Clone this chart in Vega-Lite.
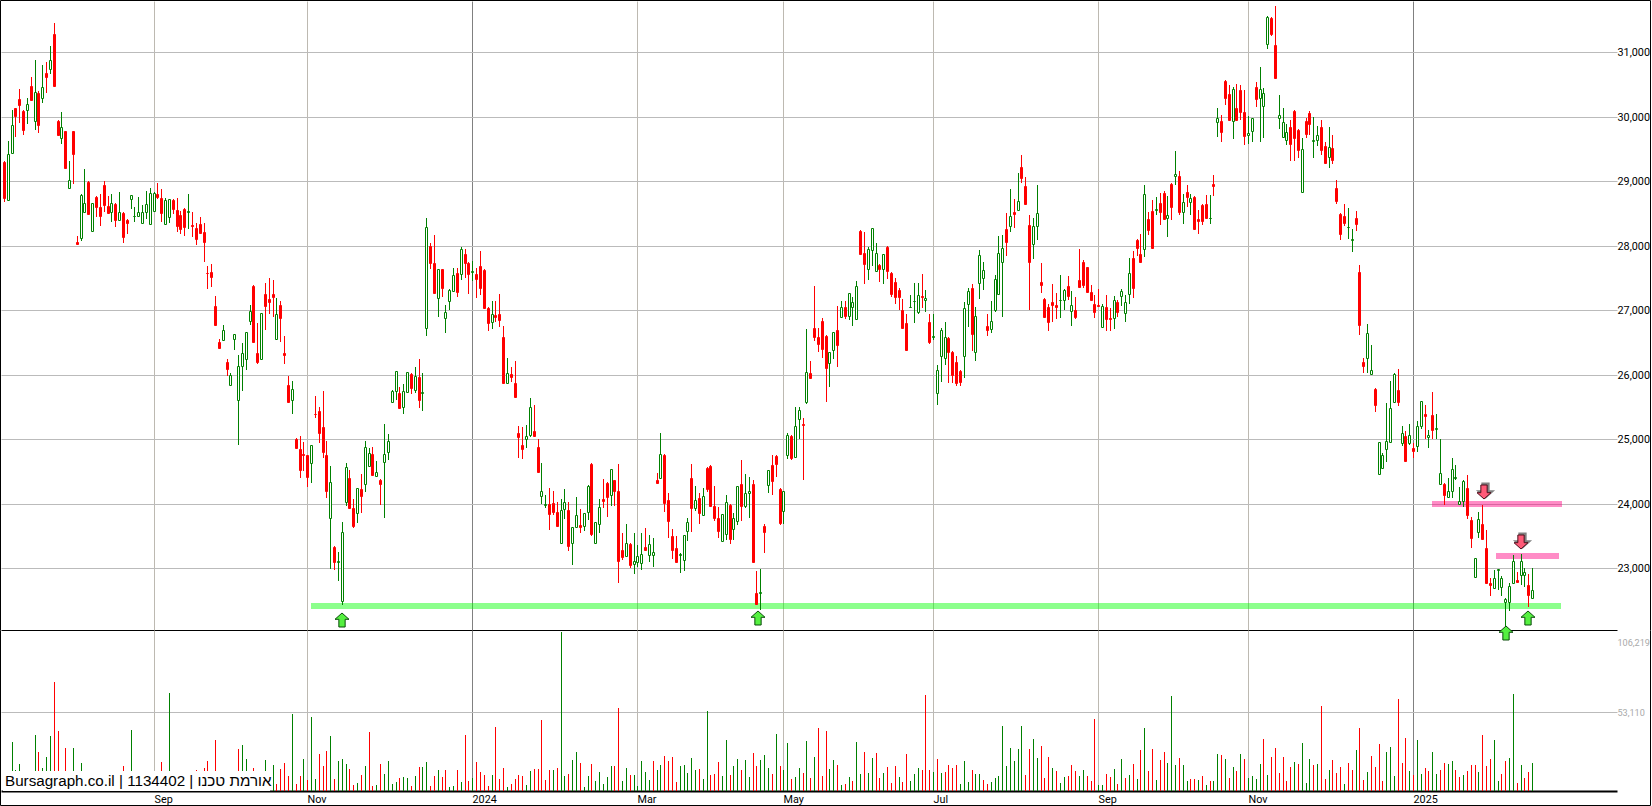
{
"$schema":"https://vega.github.io/schema/vega-lite/v6.json",
"description":"Bursagraph daily candlesticks with volume for 1134402",
"padding":0,
"background":"white",
"spacing":0,
"bounds":"flush",
"resolve":{"scale":{"color":"independent","strokeWidth":"independent"}},
"config":{"view":{"stroke":null},"concat":{"spacing":0},"scale":{"continuousPadding":0},"axis":{"labelFont":"Roboto","labelFontSize":10.8}},
"datasets":{
"bands":[{"a":79.9,"b":405.4,"price":22416,"kind":"support"},{"a":371.8,"b":405.8,"price":24000,"kind":"resistance"},{"a":388.7,"b":404.9,"price":23190,"kind":"resistance2"}],
"arrows":[{"t":88,"price":22199,"kind":"up"},{"t":196.5,"price":22230,"kind":"up"},{"t":391.2,"price":21997,"kind":"up"},{"t":397,"price":22230,"kind":"up"},{"t":385.5,"price":24187,"kind":"down"},{"t":395.1,"price":23412,"kind":"down"}],
"frameTop":[{"a":-0.997,"b":428.7,"lo":31808,"hi":31808},{"a":-0.997,"b":-0.997,"lo":22044,"hi":31808},{"a":428.7,"b":428.7,"lo":22044,"hi":31808}],
"frameBottom":[{"a":-0.997,"b":-0.997,"lo":-9366,"hi":107700},{"a":428.7,"b":428.7,"lo":-9366,"hi":107700},{"a":-0.997,"b":428.7,"lo":-9366,"hi":-9366}],
"note":[{"a":-0.1,"b":69.2,"lo":0,"hi":13180,"mid":6490,"label":"Bursagraph.co.il | 1134402 | אורמת טכנו"}],
"bars":[
{"t":0,"o":29297,"h":29307,"l":28670,"c":28743,"v":5000,"d":"down"},
{"t":1,"o":28707,"h":29620,"l":28700,"c":29415,"v":5000,"d":"up"},
{"t":2,"o":29430,"h":30100,"l":29430,"c":29877,"v":32558,"d":"up"},
{"t":3,"o":30130,"h":30140,"l":29687,"c":30010,"v":13830,"d":"up"},
{"t":4,"o":30272,"h":30433,"l":29902,"c":30178,"v":17840,"d":"up"},
{"t":5,"o":30085,"h":30100,"l":29718,"c":29795,"v":5000,"d":"down"},
{"t":6,"o":30100,"h":30288,"l":29887,"c":30204,"v":5000,"d":"up"},
{"t":7,"o":30475,"h":30615,"l":30257,"c":30257,"v":5000,"d":"down"},
{"t":8,"o":29938,"h":30880,"l":29800,"c":30376,"v":37240,"d":"up"},
{"t":9,"o":30366,"h":30397,"l":29750,"c":29872,"v":25870,"d":"down"},
{"t":10,"o":30282,"h":30802,"l":30215,"c":30454,"v":15160,"d":"up"},
{"t":11,"o":30678,"h":30850,"l":30371,"c":30615,"v":22520,"d":"up"},
{"t":12,"o":30735,"h":31100,"l":30657,"c":30875,"v":36570,"d":"up"},
{"t":13,"o":31286,"h":31445,"l":30465,"c":30475,"v":72700,"d":"down"},
{"t":14,"o":29928,"h":29944,"l":29703,"c":29713,"v":39920,"d":"down"},
{"t":15,"o":29677,"h":30068,"l":29580,"c":29846,"v":5000,"d":"up"},
{"t":16,"o":29774,"h":29785,"l":29210,"c":29210,"v":28540,"d":"down"},
{"t":17,"o":28902,"h":29313,"l":28902,"c":29015,"v":5000,"d":"up"},
{"t":18,"o":29774,"h":29785,"l":28964,"c":29425,"v":28540,"d":"up"},
{"t":19,"o":28050,"h":28143,"l":28005,"c":28020,"v":13160,"d":"down"},
{"t":20,"o":28112,"h":28805,"l":28071,"c":28790,"v":18510,"d":"up"},
{"t":21,"o":28523,"h":29190,"l":28507,"c":28660,"v":5000,"d":"up"},
{"t":22,"o":28990,"h":29000,"l":28482,"c":28497,"v":5000,"d":"down"},
{"t":23,"o":28230,"h":28660,"l":28225,"c":28660,"v":5000,"d":"up"},
{"t":24,"o":28759,"h":28774,"l":28451,"c":28595,"v":5000,"d":"down"},
{"t":25,"o":28600,"h":28805,"l":28312,"c":28456,"v":5000,"d":"down"},
{"t":26,"o":28944,"h":29000,"l":28528,"c":28625,"v":5000,"d":"down"},
{"t":27,"o":28620,"h":28774,"l":28497,"c":28507,"v":5000,"d":"down"},
{"t":28,"o":28528,"h":28805,"l":28360,"c":28660,"v":5000,"d":"up"},
{"t":29,"o":28651,"h":28666,"l":28297,"c":28395,"v":5000,"d":"down"},
{"t":30,"o":28395,"h":28836,"l":28395,"c":28523,"v":5000,"d":"up"},
{"t":31,"o":28513,"h":28528,"l":28036,"c":28133,"v":16500,"d":"down"},
{"t":32,"o":28405,"h":28420,"l":28174,"c":28348,"v":5000,"d":"down"},
{"t":33,"o":28723,"h":28785,"l":28574,"c":28785,"v":40590,"d":"up"},
{"t":34,"o":28456,"h":28605,"l":28374,"c":28466,"v":5000,"d":"up"},
{"t":35,"o":28456,"h":28760,"l":28451,"c":28523,"v":5000,"d":"up"},
{"t":36,"o":28354,"h":28636,"l":28348,"c":28523,"v":5000,"d":"up"},
{"t":37,"o":28523,"h":28851,"l":28420,"c":28651,"v":5000,"d":"up"},
{"t":38,"o":28338,"h":28897,"l":28328,"c":28815,"v":5000,"d":"up"},
{"t":39,"o":28538,"h":28825,"l":28528,"c":28815,"v":5000,"d":"up"},
{"t":40,"o":28800,"h":28974,"l":28728,"c":28759,"v":5000,"d":"down"},
{"t":41,"o":28743,"h":28882,"l":28374,"c":28502,"v":19180,"d":"down"},
{"t":42,"o":28338,"h":28738,"l":28328,"c":28707,"v":5000,"d":"up"},
{"t":43,"o":28446,"h":28723,"l":28354,"c":28723,"v":65340,"d":"up"},
{"t":44,"o":28707,"h":28723,"l":28497,"c":28564,"v":5000,"d":"down"},
{"t":45,"o":28559,"h":28743,"l":28205,"c":28312,"v":5000,"d":"down"},
{"t":46,"o":28482,"h":28543,"l":28174,"c":28256,"v":5000,"d":"down"},
{"t":47,"o":28569,"h":28584,"l":28143,"c":28297,"v":5000,"d":"down"},
{"t":48,"o":28528,"h":28805,"l":28266,"c":28538,"v":5000,"d":"up"},
{"t":49,"o":28328,"h":28528,"l":28128,"c":28302,"v":5000,"d":"down"},
{"t":50,"o":28277,"h":28354,"l":28005,"c":28097,"v":13830,"d":"down"},
{"t":51,"o":28343,"h":28451,"l":28190,"c":28190,"v":5000,"d":"down"},
{"t":52,"o":28205,"h":28359,"l":27740,"c":28051,"v":15160,"d":"down"},
{"t":53,"o":27584,"h":27678,"l":27334,"c":27574,"v":19850,"d":"down"},
{"t":54,"o":27600,"h":27724,"l":27365,"c":27522,"v":5000,"d":"down"},
{"t":55,"o":27062,"h":27215,"l":26769,"c":26769,"v":33900,"d":"down"},
{"t":56,"o":26508,"h":26549,"l":26405,"c":26420,"v":5000,"d":"down"},
{"t":57,"o":26533,"h":26769,"l":26533,"c":26687,"v":5000,"d":"up"},
{"t":58,"o":26200,"h":26241,"l":25974,"c":26097,"v":5000,"d":"down"},
{"t":59,"o":25840,"h":26025,"l":25840,"c":25995,"v":5000,"d":"up"},
{"t":60,"o":26549,"h":26626,"l":26384,"c":26626,"v":5000,"d":"up"},
{"t":61,"o":25606,"h":26307,"l":24913,"c":26133,"v":27880,"d":"down"},
{"t":62,"o":26138,"h":26487,"l":25751,"c":26333,"v":30550,"d":"up"},
{"t":63,"o":26246,"h":26656,"l":26077,"c":26656,"v":21190,"d":"up"},
{"t":64,"o":26841,"h":27077,"l":26769,"c":26995,"v":5000,"d":"up"},
{"t":65,"o":27370,"h":27385,"l":26497,"c":26502,"v":15160,"d":"down"},
{"t":66,"o":26333,"h":26795,"l":26169,"c":26200,"v":5000,"d":"down"},
{"t":67,"o":26241,"h":26964,"l":26241,"c":26964,"v":5000,"d":"up"},
{"t":68,"o":27246,"h":27415,"l":26692,"c":27062,"v":20520,"d":"up"},
{"t":69,"o":27169,"h":27492,"l":26949,"c":27123,"v":13160,"d":"up"},
{"t":70,"o":27246,"h":27462,"l":26892,"c":27200,"v":17170,"d":"up"},
{"t":71,"o":26549,"h":27185,"l":26533,"c":26949,"v":4460,"d":"down"},
{"t":72,"o":27077,"h":27138,"l":26508,"c":26877,"v":14500,"d":"down"},
{"t":73,"o":26338,"h":26600,"l":26169,"c":26307,"v":18510,"d":"down"},
{"t":74,"o":25845,"h":25985,"l":25565,"c":25580,"v":9810,"d":"down"},
{"t":75,"o":25611,"h":25907,"l":25394,"c":25782,"v":51290,"d":"up"},
{"t":76,"o":25008,"h":25019,"l":24858,"c":24858,"v":4460,"d":"down"},
{"t":77,"o":24853,"h":25055,"l":24403,"c":24517,"v":9810,"d":"down"},
{"t":78,"o":24775,"h":24962,"l":24501,"c":24760,"v":21190,"d":"up"},
{"t":79,"o":24760,"h":24760,"l":24268,"c":24418,"v":7140,"d":"down"},
{"t":80,"o":24631,"h":24910,"l":24325,"c":24910,"v":49280,"d":"up"},
{"t":81,"o":25397,"h":25676,"l":25334,"c":25386,"v":7810,"d":"up"},
{"t":82,"o":25443,"h":25505,"l":24946,"c":25102,"v":24530,"d":"down"},
{"t":83,"o":25195,"h":25754,"l":24713,"c":24806,"v":16500,"d":"down"},
{"t":84,"o":24760,"h":24977,"l":24092,"c":24201,"v":26540,"d":"down"},
{"t":85,"o":23776,"h":24589,"l":22990,"c":24341,"v":36570,"d":"up"},
{"t":86,"o":23331,"h":23347,"l":22974,"c":23104,"v":7810,"d":"down"},
{"t":87,"o":23104,"h":23254,"l":22803,"c":23114,"v":19850,"d":"up"},
{"t":88,"o":22488,"h":23720,"l":22431,"c":23564,"v":21190,"d":"up"},
{"t":89,"o":24030,"h":24636,"l":23968,"c":24574,"v":17840,"d":"up"},
{"t":90,"o":24403,"h":24527,"l":23921,"c":23937,"v":14500,"d":"down"},
{"t":91,"o":23937,"h":24077,"l":23626,"c":23657,"v":3790,"d":"down"},
{"t":92,"o":23854,"h":24247,"l":23704,"c":24247,"v":5130,"d":"up"},
{"t":93,"o":24232,"h":24465,"l":23859,"c":24123,"v":10480,"d":"down"},
{"t":94,"o":24304,"h":24977,"l":24185,"c":24884,"v":16500,"d":"up"},
{"t":95,"o":24579,"h":24869,"l":24574,"c":24791,"v":39250,"d":"down"},
{"t":96,"o":24775,"h":24884,"l":24449,"c":24449,"v":3120,"d":"down"},
{"t":97,"o":24424,"h":24667,"l":24418,"c":24496,"v":3790,"d":"up"},
{"t":98,"o":24372,"h":24387,"l":23983,"c":24310,"v":17840,"d":"down"},
{"t":99,"o":24646,"h":25241,"l":23782,"c":24775,"v":11150,"d":"up"},
{"t":100,"o":24806,"h":25086,"l":24682,"c":24977,"v":19850,"d":"up"},
{"t":101,"o":25583,"h":25769,"l":25583,"c":25754,"v":4460,"d":"up"},
{"t":102,"o":25754,"h":26064,"l":25614,"c":26064,"v":5800,"d":"up"},
{"t":103,"o":25723,"h":25816,"l":25490,"c":25490,"v":8470,"d":"down"},
{"t":104,"o":25500,"h":25862,"l":25397,"c":25754,"v":9140,"d":"up"},
{"t":105,"o":25738,"h":26049,"l":25738,"c":26049,"v":8470,"d":"up"},
{"t":106,"o":26018,"h":26033,"l":25707,"c":25800,"v":3120,"d":"down"},
{"t":107,"o":25769,"h":26126,"l":25723,"c":25987,"v":9810,"d":"up"},
{"t":108,"o":25971,"h":26251,"l":25490,"c":25614,"v":15830,"d":"down"},
{"t":109,"o":25723,"h":26033,"l":25443,"c":25733,"v":15830,"d":"up"},
{"t":110,"o":26727,"h":28435,"l":26608,"c":28285,"v":19180,"d":"up"},
{"t":111,"o":27990,"h":28036,"l":27633,"c":27726,"v":3120,"d":"down"},
{"t":112,"o":27726,"h":28160,"l":27260,"c":27260,"v":9810,"d":"down"},
{"t":113,"o":27187,"h":27643,"l":26903,"c":27643,"v":13830,"d":"up"},
{"t":114,"o":27633,"h":27643,"l":27198,"c":27338,"v":9140,"d":"down"},
{"t":115,"o":26877,"h":27074,"l":26654,"c":26980,"v":13830,"d":"down"},
{"t":116,"o":27146,"h":27322,"l":27011,"c":27306,"v":2450,"d":"up"},
{"t":117,"o":27291,"h":27648,"l":27275,"c":27539,"v":3120,"d":"up"},
{"t":118,"o":27570,"h":27648,"l":27198,"c":27275,"v":13830,"d":"down"},
{"t":119,"o":27555,"h":27974,"l":27467,"c":27943,"v":5800,"d":"up"},
{"t":120,"o":27866,"h":27943,"l":27493,"c":27726,"v":37240,"d":"down"},
{"t":121,"o":27726,"h":27741,"l":27244,"c":27555,"v":6470,"d":"down"},
{"t":122,"o":27596,"h":27762,"l":27446,"c":27607,"v":8470,"d":"up"},
{"t":123,"o":27555,"h":27648,"l":27182,"c":27477,"v":19180,"d":"down"},
{"t":124,"o":27679,"h":27912,"l":27229,"c":27338,"v":12490,"d":"down"},
{"t":125,"o":27617,"h":27633,"l":27027,"c":27027,"v":10480,"d":"down"},
{"t":126,"o":27027,"h":27043,"l":26685,"c":26810,"v":3120,"d":"down"},
{"t":127,"o":26815,"h":27136,"l":26716,"c":26944,"v":10480,"d":"up"},
{"t":128,"o":26929,"h":27136,"l":26825,"c":26903,"v":42590,"d":"down"},
{"t":129,"o":26934,"h":27244,"l":26748,"c":26856,"v":7810,"d":"down"},
{"t":130,"o":26592,"h":26763,"l":25862,"c":25878,"v":15160,"d":"down"},
{"t":131,"o":25878,"h":26266,"l":25878,"c":26028,"v":2450,"d":"up"},
{"t":132,"o":26018,"h":26126,"l":25893,"c":25971,"v":4460,"d":"down"},
{"t":133,"o":25878,"h":26220,"l":25645,"c":25661,"v":7810,"d":"down"},
{"t":134,"o":25102,"h":25210,"l":24713,"c":25039,"v":10480,"d":"down"},
{"t":135,"o":24915,"h":25195,"l":24698,"c":24853,"v":9810,"d":"down"},
{"t":136,"o":25008,"h":25226,"l":24869,"c":25050,"v":3790,"d":"up"},
{"t":137,"o":25070,"h":25645,"l":25039,"c":25505,"v":13160,"d":"up"},
{"t":138,"o":25133,"h":25536,"l":25055,"c":25055,"v":14500,"d":"down"},
{"t":139,"o":24884,"h":25008,"l":24496,"c":24496,"v":14500,"d":"down"},
{"t":140,"o":24128,"h":24636,"l":24000,"c":24201,"v":47280,"d":"down"},
{"t":141,"o":23989,"h":24139,"l":23937,"c":24000,"v":7140,"d":"down"},
{"t":142,"o":24000,"h":24247,"l":23595,"c":23844,"v":13830,"d":"down"},
{"t":143,"o":24015,"h":24201,"l":23828,"c":23875,"v":13830,"d":"up"},
{"t":144,"o":23875,"h":24030,"l":23657,"c":23657,"v":15160,"d":"down"},
{"t":145,"o":23393,"h":24077,"l":23393,"c":23906,"v":106219,"d":"up"},
{"t":146,"o":23916,"h":24232,"l":23766,"c":24030,"v":9810,"d":"up"},
{"t":147,"o":23906,"h":24030,"l":23269,"c":23347,"v":11150,"d":"down"},
{"t":148,"o":23393,"h":23642,"l":23052,"c":23642,"v":20520,"d":"up"},
{"t":149,"o":23637,"h":24108,"l":23626,"c":23828,"v":25870,"d":"up"},
{"t":150,"o":23673,"h":23921,"l":23549,"c":23642,"v":18510,"d":"down"},
{"t":151,"o":23657,"h":23859,"l":23580,"c":23859,"v":2450,"d":"up"},
{"t":152,"o":23875,"h":24294,"l":23751,"c":24279,"v":9810,"d":"up"},
{"t":153,"o":24620,"h":24636,"l":23502,"c":23533,"v":17840,"d":"down"},
{"t":154,"o":23398,"h":23720,"l":23393,"c":23720,"v":6470,"d":"up"},
{"t":155,"o":23689,"h":24077,"l":23549,"c":23952,"v":12490,"d":"up"},
{"t":156,"o":24077,"h":24387,"l":23937,"c":24046,"v":4460,"d":"up"},
{"t":157,"o":24325,"h":24341,"l":23797,"c":24108,"v":9140,"d":"up"},
{"t":158,"o":24139,"h":24543,"l":23968,"c":24543,"v":16500,"d":"up"},
{"t":159,"o":24372,"h":24372,"l":23968,"c":24201,"v":16500,"d":"down"},
{"t":160,"o":24201,"h":24620,"l":22772,"c":23114,"v":55300,"d":"down"},
{"t":161,"o":23285,"h":23549,"l":23130,"c":23176,"v":6470,"d":"up"},
{"t":162,"o":23186,"h":23689,"l":23171,"c":23393,"v":15160,"d":"up"},
{"t":163,"o":23378,"h":23393,"l":23005,"c":23052,"v":10480,"d":"down"},
{"t":164,"o":23067,"h":23549,"l":22912,"c":23109,"v":10480,"d":"up"},
{"t":165,"o":23098,"h":23362,"l":23021,"c":23192,"v":3120,"d":"up"},
{"t":166,"o":23078,"h":23549,"l":22974,"c":23223,"v":19850,"d":"up"},
{"t":167,"o":23331,"h":23626,"l":23285,"c":23285,"v":12490,"d":"up"},
{"t":168,"o":23207,"h":23518,"l":23098,"c":23378,"v":7140,"d":"up"},
{"t":169,"o":23207,"h":23471,"l":23021,"c":23254,"v":19850,"d":"down"},
{"t":170,"o":24372,"h":24480,"l":24325,"c":24325,"v":13830,"d":"up"},
{"t":171,"o":24398,"h":25096,"l":24398,"c":24770,"v":17170,"d":"up"},
{"t":172,"o":24760,"h":24775,"l":23875,"c":24015,"v":23190,"d":"down"},
{"t":173,"o":24061,"h":24170,"l":23471,"c":23735,"v":19850,"d":"down"},
{"t":174,"o":23502,"h":23611,"l":23145,"c":23285,"v":22520,"d":"down"},
{"t":175,"o":23316,"h":23502,"l":23098,"c":23098,"v":5800,"d":"down"},
{"t":176,"o":23212,"h":23233,"l":22928,"c":23223,"v":16500,"d":"up"},
{"t":177,"o":23130,"h":23518,"l":22959,"c":23518,"v":17170,"d":"up"},
{"t":178,"o":23580,"h":23782,"l":23425,"c":23720,"v":11820,"d":"up"},
{"t":179,"o":24403,"h":24620,"l":23564,"c":23937,"v":21850,"d":"up"},
{"t":180,"o":23937,"h":24279,"l":23890,"c":24061,"v":13830,"d":"up"},
{"t":181,"o":24092,"h":24165,"l":23689,"c":23854,"v":14500,"d":"down"},
{"t":182,"o":23823,"h":24247,"l":23823,"c":24118,"v":7810,"d":"up"},
{"t":183,"o":24558,"h":24574,"l":24185,"c":24232,"v":53300,"d":"up"},
{"t":184,"o":24589,"h":24605,"l":23968,"c":23968,"v":10480,"d":"down"},
{"t":185,"o":23968,"h":24279,"l":23735,"c":23782,"v":11150,"d":"down"},
{"t":186,"o":23782,"h":23952,"l":23471,"c":23580,"v":19180,"d":"down"},
{"t":187,"o":23419,"h":23844,"l":23409,"c":23844,"v":9810,"d":"up"},
{"t":188,"o":23533,"h":24139,"l":23440,"c":24025,"v":33900,"d":"up"},
{"t":189,"o":23983,"h":24000,"l":23378,"c":23456,"v":10480,"d":"down"},
{"t":190,"o":23611,"h":23859,"l":23440,"c":23782,"v":16500,"d":"up"},
{"t":191,"o":23735,"h":24279,"l":23673,"c":24279,"v":21190,"d":"up"},
{"t":192,"o":24310,"h":24682,"l":23735,"c":23968,"v":13830,"d":"down"},
{"t":193,"o":23973,"h":24465,"l":23937,"c":24160,"v":20520,"d":"up"},
{"t":194,"o":24165,"h":24418,"l":23782,"c":24196,"v":9140,"d":"up"},
{"t":195,"o":24310,"h":24372,"l":23088,"c":23104,"v":25200,"d":"down"},
{"t":196,"o":22617,"h":22959,"l":22431,"c":22446,"v":16500,"d":"down"},
{"t":197,"o":22612,"h":22990,"l":22353,"c":22627,"v":20520,"d":"up"},
{"t":198,"o":23657,"h":23689,"l":23238,"c":23564,"v":23860,"d":"up"},
{"t":199,"o":24294,"h":24527,"l":24170,"c":24527,"v":15160,"d":"up"},
{"t":200,"o":24605,"h":24760,"l":24139,"c":24356,"v":11150,"d":"down"},
{"t":201,"o":24744,"h":24760,"l":24418,"c":24620,"v":37910,"d":"up"},
{"t":202,"o":24232,"h":24247,"l":23673,"c":23704,"v":16500,"d":"down"},
{"t":203,"o":23890,"h":24201,"l":23689,"c":24201,"v":13830,"d":"up"},
{"t":204,"o":24760,"h":25102,"l":24698,"c":25070,"v":31890,"d":"up"},
{"t":205,"o":25055,"h":25070,"l":24682,"c":24713,"v":7810,"d":"down"},
{"t":206,"o":24724,"h":25505,"l":24713,"c":25210,"v":9140,"d":"up"},
{"t":207,"o":25319,"h":25505,"l":25008,"c":25459,"v":15160,"d":"up"},
{"t":208,"o":25241,"h":25334,"l":24372,"c":25221,"v":11820,"d":"down"},
{"t":209,"o":25583,"h":26716,"l":25552,"c":26044,"v":33230,"d":"up"},
{"t":210,"o":26033,"h":26220,"l":25940,"c":25956,"v":8470,"d":"down"},
{"t":211,"o":26732,"h":27369,"l":26530,"c":26592,"v":22520,"d":"up"},
{"t":212,"o":26592,"h":26732,"l":26359,"c":26483,"v":41920,"d":"down"},
{"t":213,"o":26841,"h":26887,"l":26266,"c":26406,"v":9810,"d":"down"},
{"t":214,"o":26608,"h":26623,"l":25583,"c":26111,"v":39920,"d":"down"},
{"t":215,"o":26183,"h":26359,"l":25816,"c":26354,"v":14500,"d":"up"},
{"t":216,"o":26390,"h":26670,"l":26251,"c":26665,"v":20520,"d":"up"},
{"t":217,"o":26701,"h":27058,"l":26126,"c":26468,"v":17170,"d":"down"},
{"t":218,"o":26898,"h":27136,"l":26887,"c":27053,"v":3790,"d":"up"},
{"t":219,"o":27043,"h":27136,"l":26872,"c":26918,"v":4460,"d":"down"},
{"t":220,"o":26918,"h":27260,"l":26856,"c":27260,"v":9140,"d":"up"},
{"t":221,"o":27053,"h":27198,"l":26763,"c":27130,"v":6470,"d":"down"},
{"t":222,"o":26872,"h":27446,"l":26856,"c":27369,"v":32560,"d":"up"},
{"t":223,"o":28223,"h":28238,"l":27866,"c":27866,"v":11150,"d":"up"},
{"t":224,"o":27881,"h":28207,"l":27400,"c":27710,"v":25870,"d":"down"},
{"t":225,"o":27633,"h":27974,"l":27462,"c":27943,"v":11820,"d":"up"},
{"t":226,"o":27928,"h":28269,"l":27679,"c":28269,"v":21850,"d":"up"},
{"t":227,"o":27602,"h":28036,"l":27602,"c":27881,"v":25200,"d":"down"},
{"t":228,"o":27695,"h":27710,"l":27431,"c":27633,"v":8470,"d":"down"},
{"t":229,"o":27633,"h":27866,"l":27400,"c":27866,"v":11820,"d":"up"},
{"t":230,"o":27974,"h":27990,"l":27477,"c":27602,"v":15830,"d":"down"},
{"t":231,"o":27570,"h":27586,"l":27198,"c":27244,"v":5130,"d":"down"},
{"t":232,"o":27431,"h":27493,"l":27089,"c":27198,"v":16500,"d":"down"},
{"t":233,"o":27306,"h":27338,"l":26996,"c":27198,"v":9140,"d":"up"},
{"t":234,"o":27011,"h":27167,"l":26716,"c":26732,"v":5800,"d":"down"},
{"t":235,"o":26810,"h":26949,"l":26390,"c":26390,"v":24530,"d":"down"},
{"t":236,"o":27043,"h":27229,"l":27043,"c":27053,"v":6470,"d":"up"},
{"t":237,"o":27136,"h":27415,"l":26810,"c":27146,"v":11150,"d":"up"},
{"t":238,"o":26980,"h":27415,"l":26934,"c":27239,"v":15160,"d":"up"},
{"t":239,"o":27224,"h":27555,"l":27027,"c":27208,"v":13830,"d":"down"},
{"t":240,"o":27162,"h":27306,"l":26965,"c":27193,"v":64000,"d":"down"},
{"t":241,"o":26825,"h":26949,"l":26483,"c":26515,"v":13830,"d":"down"},
{"t":242,"o":26592,"h":26949,"l":26546,"c":26603,"v":12490,"d":"up"},
{"t":243,"o":25717,"h":26157,"l":25536,"c":26075,"v":21190,"d":"down"},
{"t":244,"o":26297,"h":26732,"l":25893,"c":26701,"v":11820,"d":"up"},
{"t":245,"o":26261,"h":26825,"l":26157,"c":26592,"v":12490,"d":"down"},
{"t":246,"o":26577,"h":26592,"l":25878,"c":26359,"v":17170,"d":"down"},
{"t":247,"o":26359,"h":26375,"l":25878,"c":26002,"v":15160,"d":"down"},
{"t":248,"o":26199,"h":26297,"l":25831,"c":25878,"v":17170,"d":"down"},
{"t":249,"o":26064,"h":26080,"l":25831,"c":25893,"v":4460,"d":"up"},
{"t":250,"o":26297,"h":27120,"l":25956,"c":27027,"v":19850,"d":"up"},
{"t":251,"o":27089,"h":27338,"l":26748,"c":27291,"v":5800,"d":"up"},
{"t":252,"o":27338,"h":27400,"l":26375,"c":26639,"v":13830,"d":"down"},
{"t":253,"o":26359,"h":27043,"l":26220,"c":26918,"v":11150,"d":"up"},
{"t":254,"o":27415,"h":27928,"l":27167,"c":27850,"v":11150,"d":"up"},
{"t":255,"o":27493,"h":27741,"l":27306,"c":27617,"v":7140,"d":"down"},
{"t":256,"o":26763,"h":26949,"l":26608,"c":26701,"v":4460,"d":"down"},
{"t":257,"o":26716,"h":27136,"l":26654,"c":26841,"v":5800,"d":"up"},
{"t":258,"o":26996,"h":27539,"l":26980,"c":27477,"v":8470,"d":"up"},
{"t":259,"o":27255,"h":28158,"l":27244,"c":27893,"v":9810,"d":"up"},
{"t":260,"o":27752,"h":28160,"l":26903,"c":27958,"v":43260,"d":"up"},
{"t":261,"o":28266,"h":28510,"l":27837,"c":28051,"v":16500,"d":"up"},
{"t":262,"o":28301,"h":28878,"l":28210,"c":28459,"v":28540,"d":"up"},
{"t":263,"o":28526,"h":28725,"l":28281,"c":28495,"v":19850,"d":"up"},
{"t":264,"o":28561,"h":29122,"l":28556,"c":28694,"v":27880,"d":"up"},
{"t":265,"o":29214,"h":29413,"l":28969,"c":29046,"v":43260,"d":"up"},
{"t":266,"o":28924,"h":29061,"l":28648,"c":28648,"v":10480,"d":"down"},
{"t":267,"o":28327,"h":28480,"l":27011,"c":27741,"v":27880,"d":"down"},
{"t":268,"o":28021,"h":28434,"l":27788,"c":28306,"v":34570,"d":"up"},
{"t":269,"o":28306,"h":28939,"l":28082,"c":28505,"v":21850,"d":"up"},
{"t":270,"o":27431,"h":27726,"l":27260,"c":27384,"v":29880,"d":"down"},
{"t":271,"o":27167,"h":27182,"l":26903,"c":26903,"v":8470,"d":"down"},
{"t":272,"o":27043,"h":27089,"l":26685,"c":26825,"v":22520,"d":"down"},
{"t":273,"o":27120,"h":27400,"l":26825,"c":27074,"v":15160,"d":"up"},
{"t":274,"o":27074,"h":27260,"l":26872,"c":27043,"v":13160,"d":"down"},
{"t":275,"o":27156,"h":27539,"l":26887,"c":27162,"v":5130,"d":"up"},
{"t":276,"o":27162,"h":27322,"l":27011,"c":27306,"v":9140,"d":"up"},
{"t":277,"o":27369,"h":27524,"l":27151,"c":27213,"v":9810,"d":"down"},
{"t":278,"o":26991,"h":27291,"l":26763,"c":27074,"v":17170,"d":"down"},
{"t":279,"o":27011,"h":27198,"l":26872,"c":26903,"v":13160,"d":"down"},
{"t":280,"o":27462,"h":27943,"l":27353,"c":27353,"v":9810,"d":"up"},
{"t":281,"o":27741,"h":27772,"l":27338,"c":27384,"v":13830,"d":"up"},
{"t":282,"o":27664,"h":27664,"l":27275,"c":27275,"v":9810,"d":"down"},
{"t":283,"o":27275,"h":27384,"l":27151,"c":27151,"v":6470,"d":"down"},
{"t":284,"o":27089,"h":27229,"l":26887,"c":26980,"v":47950,"d":"down"},
{"t":285,"o":27074,"h":27322,"l":27058,"c":27058,"v":3790,"d":"up"},
{"t":286,"o":26743,"h":27089,"l":26743,"c":27068,"v":3790,"d":"up"},
{"t":287,"o":27052,"h":27243,"l":26686,"c":26872,"v":11150,"d":"down"},
{"t":288,"o":26887,"h":27042,"l":26686,"c":26872,"v":9140,"d":"down"},
{"t":289,"o":26882,"h":27228,"l":26717,"c":27161,"v":14500,"d":"up"},
{"t":290,"o":27135,"h":27166,"l":26903,"c":26970,"v":4460,"d":"down"},
{"t":291,"o":27218,"h":27336,"l":27058,"c":27305,"v":21190,"d":"up"},
{"t":292,"o":26960,"h":27243,"l":26825,"c":27130,"v":8470,"d":"down"},
{"t":293,"o":27254,"h":27816,"l":27104,"c":27579,"v":10480,"d":"up"},
{"t":294,"o":27816,"h":27925,"l":27197,"c":27352,"v":17840,"d":"down"},
{"t":295,"o":28095,"h":28110,"l":27847,"c":27971,"v":7810,"d":"up"},
{"t":296,"o":27878,"h":28188,"l":27754,"c":27754,"v":27210,"d":"down"},
{"t":297,"o":27950,"h":28946,"l":27832,"c":28802,"v":41920,"d":"up"},
{"t":298,"o":28420,"h":28528,"l":28172,"c":28250,"v":13160,"d":"down"},
{"t":299,"o":28544,"h":28714,"l":27971,"c":27971,"v":27880,"d":"down"},
{"t":300,"o":28559,"h":28760,"l":28482,"c":28570,"v":7140,"d":"up"},
{"t":301,"o":28668,"h":28822,"l":28327,"c":28528,"v":20520,"d":"down"},
{"t":302,"o":28822,"h":28853,"l":28420,"c":28420,"v":25870,"d":"down"},
{"t":303,"o":28435,"h":28776,"l":28141,"c":28482,"v":18510,"d":"up"},
{"t":304,"o":28962,"h":28977,"l":28404,"c":28606,"v":63330,"d":"up"},
{"t":305,"o":29080,"h":29473,"l":28946,"c":29111,"v":17170,"d":"up"},
{"t":306,"o":29086,"h":29163,"l":28482,"c":28528,"v":21850,"d":"down"},
{"t":307,"o":28528,"h":28807,"l":28342,"c":28683,"v":17170,"d":"up"},
{"t":308,"o":28838,"h":28946,"l":28606,"c":28760,"v":6470,"d":"up"},
{"t":309,"o":28673,"h":28807,"l":28482,"c":28740,"v":7810,"d":"down"},
{"t":310,"o":28760,"h":28776,"l":28265,"c":28265,"v":7810,"d":"down"},
{"t":311,"o":28420,"h":28559,"l":28188,"c":28389,"v":7140,"d":"up"},
{"t":312,"o":28637,"h":28652,"l":28327,"c":28389,"v":9810,"d":"down"},
{"t":313,"o":28652,"h":28791,"l":28420,"c":28435,"v":3790,"d":"up"},
{"t":314,"o":28425,"h":28791,"l":28342,"c":28435,"v":6470,"d":"down"},
{"t":315,"o":28962,"h":29101,"l":28776,"c":28931,"v":6470,"d":"up"},
{"t":316,"o":29911,"h":30138,"l":29689,"c":29978,"v":24530,"d":"up"},
{"t":317,"o":29937,"h":30030,"l":29612,"c":29767,"v":23860,"d":"down"},
{"t":318,"o":30556,"h":30572,"l":30185,"c":30293,"v":21190,"d":"up"},
{"t":319,"o":30355,"h":30494,"l":29937,"c":29952,"v":8470,"d":"down"},
{"t":320,"o":29932,"h":30463,"l":29658,"c":30432,"v":15830,"d":"up"},
{"t":321,"o":30138,"h":30510,"l":29952,"c":29952,"v":13160,"d":"down"},
{"t":322,"o":30417,"h":30494,"l":29952,"c":30076,"v":24530,"d":"up"},
{"t":323,"o":30076,"h":30417,"l":29565,"c":29705,"v":21190,"d":"down"},
{"t":324,"o":29715,"h":30014,"l":29581,"c":29746,"v":8470,"d":"up"},
{"t":325,"o":29777,"h":29978,"l":29612,"c":29978,"v":9810,"d":"up"},
{"t":326,"o":30463,"h":30541,"l":30154,"c":30277,"v":7810,"d":"up"},
{"t":327,"o":30283,"h":30773,"l":29612,"c":30427,"v":17840,"d":"up"},
{"t":328,"o":30164,"h":30448,"l":29674,"c":30365,"v":34570,"d":"down"},
{"t":329,"o":31124,"h":31562,"l":31051,"c":31547,"v":10480,"d":"up"},
{"t":330,"o":31531,"h":31547,"l":31253,"c":31284,"v":22520,"d":"down"},
{"t":331,"o":31113,"h":31717,"l":30603,"c":30603,"v":28540,"d":"down"},
{"t":332,"o":29978,"h":30339,"l":29813,"c":30025,"v":11820,"d":"down"},
{"t":333,"o":29689,"h":30138,"l":29674,"c":29916,"v":22520,"d":"down"},
{"t":334,"o":29638,"h":29890,"l":29565,"c":29761,"v":6470,"d":"down"},
{"t":335,"o":29844,"h":29952,"l":29318,"c":29581,"v":15830,"d":"down"},
{"t":336,"o":30092,"h":30107,"l":29318,"c":29674,"v":19180,"d":"up"},
{"t":337,"o":29798,"h":29813,"l":29364,"c":29488,"v":17840,"d":"down"},
{"t":338,"o":28827,"h":29674,"l":28822,"c":29503,"v":31890,"d":"up"},
{"t":339,"o":29937,"h":29983,"l":29674,"c":29736,"v":5130,"d":"up"},
{"t":340,"o":30061,"h":30092,"l":29720,"c":29890,"v":21190,"d":"up"},
{"t":341,"o":29622,"h":29999,"l":29364,"c":29638,"v":17170,"d":"down"},
{"t":342,"o":29632,"h":29860,"l":29550,"c":29720,"v":17840,"d":"up"},
{"t":343,"o":29844,"h":29952,"l":29411,"c":29488,"v":56640,"d":"down"},
{"t":344,"o":29550,"h":29612,"l":29287,"c":29287,"v":7810,"d":"down"},
{"t":345,"o":29374,"h":29844,"l":29209,"c":29534,"v":13830,"d":"up"},
{"t":346,"o":29519,"h":29720,"l":29271,"c":29333,"v":20520,"d":"down"},
{"t":347,"o":28900,"h":29024,"l":28652,"c":28698,"v":11820,"d":"down"},
{"t":348,"o":28497,"h":28513,"l":28095,"c":28188,"v":15830,"d":"down"},
{"t":349,"o":28466,"h":28652,"l":28312,"c":28358,"v":4460,"d":"up"},
{"t":350,"o":28286,"h":28590,"l":28110,"c":28296,"v":18510,"d":"down"},
{"t":351,"o":28095,"h":28265,"l":27909,"c":28110,"v":13830,"d":"down"},
{"t":352,"o":28435,"h":28544,"l":28234,"c":28342,"v":27210,"d":"up"},
{"t":353,"o":27599,"h":27708,"l":26609,"c":26779,"v":41920,"d":"down"},
{"t":354,"o":26191,"h":26253,"l":26020,"c":26129,"v":7140,"d":"down"},
{"t":355,"o":26253,"h":26794,"l":26020,"c":26640,"v":12490,"d":"up"},
{"t":356,"o":26010,"h":26454,"l":26005,"c":26067,"v":23190,"d":"down"},
{"t":357,"o":25787,"h":25802,"l":25428,"c":25537,"v":15830,"d":"down"},
{"t":358,"o":24466,"h":24959,"l":24451,"c":24959,"v":31220,"d":"down"},
{"t":359,"o":24554,"h":24790,"l":24543,"c":24759,"v":6470,"d":"down"},
{"t":360,"o":24846,"h":25568,"l":24651,"c":24974,"v":25870,"d":"up"},
{"t":361,"o":24964,"h":25911,"l":24954,"c":25490,"v":29210,"d":"up"},
{"t":362,"o":25579,"h":26021,"l":25568,"c":26005,"v":9810,"d":"up"},
{"t":363,"o":25771,"h":26083,"l":25521,"c":25584,"v":61330,"d":"down"},
{"t":364,"o":24944,"h":25209,"l":24897,"c":25095,"v":18510,"d":"down"},
{"t":365,"o":25053,"h":25131,"l":24651,"c":24656,"v":35230,"d":"down"},
{"t":366,"o":24944,"h":25241,"l":24913,"c":25069,"v":13160,"d":"up"},
{"t":367,"o":24867,"h":24944,"l":24713,"c":24820,"v":10480,"d":"down"},
{"t":368,"o":24892,"h":25287,"l":24805,"c":25209,"v":33900,"d":"up"},
{"t":369,"o":25209,"h":25599,"l":25163,"c":25599,"v":11150,"d":"up"},
{"t":370,"o":25397,"h":25537,"l":25007,"c":25365,"v":15160,"d":"down"},
{"t":371,"o":25033,"h":25147,"l":24867,"c":25064,"v":13160,"d":"down"},
{"t":372,"o":25381,"h":25740,"l":25007,"c":25147,"v":25870,"d":"up"},
{"t":373,"o":25163,"h":25397,"l":25007,"c":25178,"v":11150,"d":"up"},
{"t":374,"o":24307,"h":25005,"l":24297,"c":24477,"v":13830,"d":"down"},
{"t":375,"o":24302,"h":24318,"l":23974,"c":24130,"v":18510,"d":"down"},
{"t":376,"o":24099,"h":24396,"l":24099,"c":24193,"v":17840,"d":"up"},
{"t":377,"o":24193,"h":24708,"l":24083,"c":24536,"v":19850,"d":"up"},
{"t":378,"o":24396,"h":24599,"l":24364,"c":24411,"v":13830,"d":"down"},
{"t":379,"o":24000,"h":24255,"l":23974,"c":24047,"v":9140,"d":"down"},
{"t":380,"o":24047,"h":24364,"l":23958,"c":24359,"v":10480,"d":"up"},
{"t":381,"o":24239,"h":24443,"l":23771,"c":23833,"v":13160,"d":"down"},
{"t":382,"o":23755,"h":23802,"l":23318,"c":23474,"v":17170,"d":"down"},
{"t":383,"o":22870,"h":23161,"l":22865,"c":23161,"v":17170,"d":"down"},
{"t":384,"o":23568,"h":23880,"l":23474,"c":23771,"v":12490,"d":"up"},
{"t":385,"o":23693,"h":23989,"l":23458,"c":23458,"v":37240,"d":"down"},
{"t":386,"o":23318,"h":23599,"l":22755,"c":22771,"v":16500,"d":"down"},
{"t":387,"o":22771,"h":22849,"l":22568,"c":22745,"v":21190,"d":"down"},
{"t":388,"o":22693,"h":22974,"l":22693,"c":22849,"v":33900,"d":"up"},
{"t":389,"o":22979,"h":22990,"l":22661,"c":22990,"v":6470,"d":"up"},
{"t":390,"o":22708,"h":22880,"l":22568,"c":22849,"v":11150,"d":"down"},
{"t":391,"o":22484,"h":22536,"l":22099,"c":22531,"v":19850,"d":"down"},
{"t":392,"o":22484,"h":22771,"l":22333,"c":22724,"v":21850,"d":"up"},
{"t":393,"o":22766,"h":23208,"l":22755,"c":23114,"v":64670,"d":"up"},
{"t":394,"o":22818,"h":22943,"l":22786,"c":22786,"v":5130,"d":"down"},
{"t":395,"o":22896,"h":23224,"l":22739,"c":23114,"v":17170,"d":"up"},
{"t":396,"o":22896,"h":23005,"l":22708,"c":22943,"v":8470,"d":"down"},
{"t":397,"o":22740,"h":22911,"l":22396,"c":22583,"v":12490,"d":"down"},
{"t":398,"o":22547,"h":23005,"l":22536,"c":22661,"v":18510,"d":"up"}
]
},
"vconcat":[
{"width":1616,"height":629,"layer":[
{"data":{"name":"bands"},"mark":{"type":"rule","opacity":0.45},
 "encoding":{
  "x":{"field":"a","type":"quantitative","scale":{"domain":[-0.737,420.09],"round":true,"nice":false,"zero":false,"padding":0},
   "axis":{"values":[39,79,122,165,203,242,285,324,367],"grid":true,"gridColor":{"condition":{"test":"datum.value==122||datum.value==367","value":"#808080"},"value":"#bdb9b1"},"gridWidth":1,"labels":false,"ticks":false,"domain":true,"domainColor":"#000000","domainWidth":1,"title":null}},
  "x2":{"field":"b"},
  "y":{"field":"price","type":"quantitative","scale":{"domain":[22044,31793],"round":true,"nice":false,"zero":false},
   "axis":{"orient":"right","values":[23000,24000,25000,26000,27000,28000,29000,30000,31000],"format":",d","grid":true,"gridColor":"#bbbbbb","gridWidth":1,"ticks":false,"domain":false,"labelColor":"#000000","labelPadding":0,"labelAlign":"left","title":null}},
  "color":{"field":"kind","type":"nominal","scale":{"domain":["support","resistance","resistance2"],"range":["#00ff00","#ff0080","#ff0080"]},"legend":null},
  "strokeWidth":{"field":"kind","type":"ordinal","scale":{"domain":["support","resistance","resistance2"],"range":[6,6,4]},"legend":null}
 }},
{"data":{"name":"bars"},"mark":{"type":"rule","xOffset":0.5,"x2Offset":0.5,"strokeWidth":1},
 "encoding":{
  "x":{"field":"t","type":"quantitative","scale":{"domain":[-0.737,420.09],"round":true,"nice":false,"zero":false,"padding":0},"axis":{"title":null}},
  "y":{"field":"h","type":"quantitative","scale":{"domain":[22044,31793],"round":true,"nice":false,"zero":false},"axis":{"title":null}},
  "y2":{"field":"l"},
  "color":{"condition":{"test":"datum.c>=datum.o","value":"#008000"},"value":"#ff0000"}
 }},
{"data":{"name":"bars"},"mark":{"type":"bar","size":2,"xOffset":0.5,"x2Offset":0.5,"yOffset":0.5,"y2Offset":0.5,"strokeWidth":1},
 "encoding":{
  "x":{"field":"t","type":"quantitative","scale":{"domain":[-0.737,420.09],"round":true,"nice":false,"zero":false,"padding":0},"axis":{"title":null}},
  "y":{"field":"o","type":"quantitative","scale":{"domain":[22044,31793],"round":true,"nice":false,"zero":false},"axis":{"title":null}},
  "y2":{"field":"c"},
  "fill":{"condition":{"test":"datum.c>=datum.o","value":"#ffffff"},"value":"#ff0000"},
  "stroke":{"condition":{"test":"datum.c>=datum.o","value":"#008000"},"value":"#ff0000"}
 }},
{"data":{"name":"arrows"},"transform":[{"filter":"datum.kind=='down'"}],
 "mark":{"type":"point","filled":true,"size":196,"xOffset":1.5,"yOffset":-1.5,"shape":"M0,1 L1,0.1 L0.45,0.1 L0.45,-1 L-0.45,-1 L-0.45,0.1 L-1,0.1 Z","fill":"#808080","stroke":"#808080","opacity":1},
 "encoding":{
  "x":{"field":"t","type":"quantitative","scale":{"domain":[-0.737,420.09],"round":true,"nice":false,"zero":false,"padding":0},"axis":{"title":null}},
  "y":{"field":"price","type":"quantitative","scale":{"domain":[22044,31793],"round":true,"nice":false,"zero":false},"axis":{"title":null}}
 }},
{"data":{"name":"arrows"},"transform":[{"filter":"datum.kind=='down'"}],
 "mark":{"type":"point","filled":true,"size":196,"shape":"M0,1 L1,0.1 L0.45,0.1 L0.45,-1 L-0.45,-1 L-0.45,0.1 L-1,0.1 Z","fill":"#ff5a78","stroke":"#4d0f1c","strokeWidth":1,"opacity":1},
 "encoding":{
  "x":{"field":"t","type":"quantitative","scale":{"domain":[-0.737,420.09],"round":true,"nice":false,"zero":false,"padding":0},"axis":{"title":null}},
  "y":{"field":"price","type":"quantitative","scale":{"domain":[22044,31793],"round":true,"nice":false,"zero":false},"axis":{"title":null}}
 }},
{"data":{"name":"arrows"},"transform":[{"filter":"datum.kind=='up'"}],
 "mark":{"type":"point","filled":true,"size":196,"shape":"M0,-1 L1,-0.1 L0.45,-0.1 L0.45,1 L-0.45,1 L-0.45,-0.1 L-1,-0.1 Z","fill":"#55f040","stroke":"#0b4d0b","strokeWidth":1,"opacity":1},
 "encoding":{
  "x":{"field":"t","type":"quantitative","scale":{"domain":[-0.737,420.09],"round":true,"nice":false,"zero":false,"padding":0},"axis":{"title":null}},
  "y":{"field":"price","type":"quantitative","scale":{"domain":[22044,31793],"round":true,"nice":false,"zero":false},"axis":{"title":null}}
 }},
{"data":{"name":"frameTop"},"mark":{"type":"rule","color":"#000000","strokeWidth":1,"xOffset":0.5,"x2Offset":0.5,"yOffset":0.5,"y2Offset":0.5},
 "encoding":{
  "x":{"field":"a","type":"quantitative","scale":{"domain":[-0.737,420.09],"round":true,"nice":false,"zero":false,"padding":0},"axis":{"title":null}},
  "x2":{"field":"b"},
  "y":{"field":"lo","type":"quantitative","scale":{"domain":[22044,31793],"round":true,"nice":false,"zero":false},"axis":{"title":null}},
  "y2":{"field":"hi"}
 }}
]},
{"width":1616,"height":161,"layer":[
{"data":{"name":"bars"},"mark":{"type":"rule","xOffset":0.5,"x2Offset":0.5,"strokeWidth":1},
 "encoding":{
  "x":{"field":"t","type":"quantitative","scale":{"domain":[-0.737,420.09],"round":true,"nice":false,"zero":false},
   "axis":{"values":[39,79,122,165,203,242,285,324,367],"grid":true,"gridColor":{"condition":{"test":"datum.value==122||datum.value==367","value":"#808080"},"value":"#bdb9b1"},"gridWidth":1,"labelExpr":"{39:'Sep',79:'Nov',122:'2024',165:'Mar',203:'May',242:'Jul',285:'Sep',324:'Nov',367:'2025'}[datum.value]","labelAlign":"left","labelColor":"#000000","labelPadding":2,"labelFlush":false,"labelOverlap":false,"ticks":false,"domain":true,"domainColor":"#000000","domainWidth":2,"title":null}},
  "y":{"field":"v","type":"quantitative","scale":{"domain":[0,107700],"round":true,"nice":false,"zero":false},
   "axis":{"orient":"right","values":[53110,106219],"format":",d","grid":true,"gridColor":"#bbbbbb","gridOpacity":{"condition":{"test":"datum.value>100000","value":0},"value":1},"ticks":false,"domain":false,"labelColor":"#a9a9a9","labelFontSize":9.1,"labelPadding":0,"labelAlign":"left","labelOffset":{"condition":{"test":"datum.value>100000","value":10},"value":0},"title":null}},
  "y2":{"datum":0},
  "color":{"field":"d","type":"nominal","scale":{"domain":["up","down"],"range":["#008000","#ff0000"]},"legend":null}
 }},
{"data":{"name":"note"},"mark":{"type":"rect","fill":"#ffffff"},
 "encoding":{
  "x":{"field":"a","type":"quantitative","scale":{"domain":[-0.737,420.09],"round":true,"nice":false,"zero":false},"axis":{"title":null}},
  "x2":{"field":"b"},
  "y":{"field":"lo","type":"quantitative","scale":{"domain":[0,107700],"round":true,"nice":false,"zero":false},"axis":{"title":null}},
  "y2":{"field":"hi"}
 }},
{"data":{"name":"note"},"mark":{"type":"text","align":"left","baseline":"middle","dx":2,"font":"Liberation Sans","fontSize":15.2,"color":"#000000"},
 "encoding":{
  "x":{"field":"a","type":"quantitative","scale":{"domain":[-0.737,420.09],"round":true,"nice":false,"zero":false},"axis":{"title":null}},
  "y":{"field":"mid","type":"quantitative","scale":{"domain":[0,107700],"round":true,"nice":false,"zero":false},"axis":{"title":null}},
  "text":{"field":"label"}
 }},
{"data":{"name":"frameBottom"},"mark":{"type":"rule","color":"#000000","strokeWidth":1,"xOffset":0.5,"x2Offset":0.5,"yOffset":0.5,"y2Offset":0.5},
 "encoding":{
  "x":{"field":"a","type":"quantitative","scale":{"domain":[-0.737,420.09],"round":true,"nice":false,"zero":false},"axis":{"title":null}},
  "x2":{"field":"b"},
  "y":{"field":"lo","type":"quantitative","scale":{"domain":[0,107700],"round":true,"nice":false,"zero":false},"axis":{"title":null}},
  "y2":{"field":"hi"}
 }}
]}
]
}
